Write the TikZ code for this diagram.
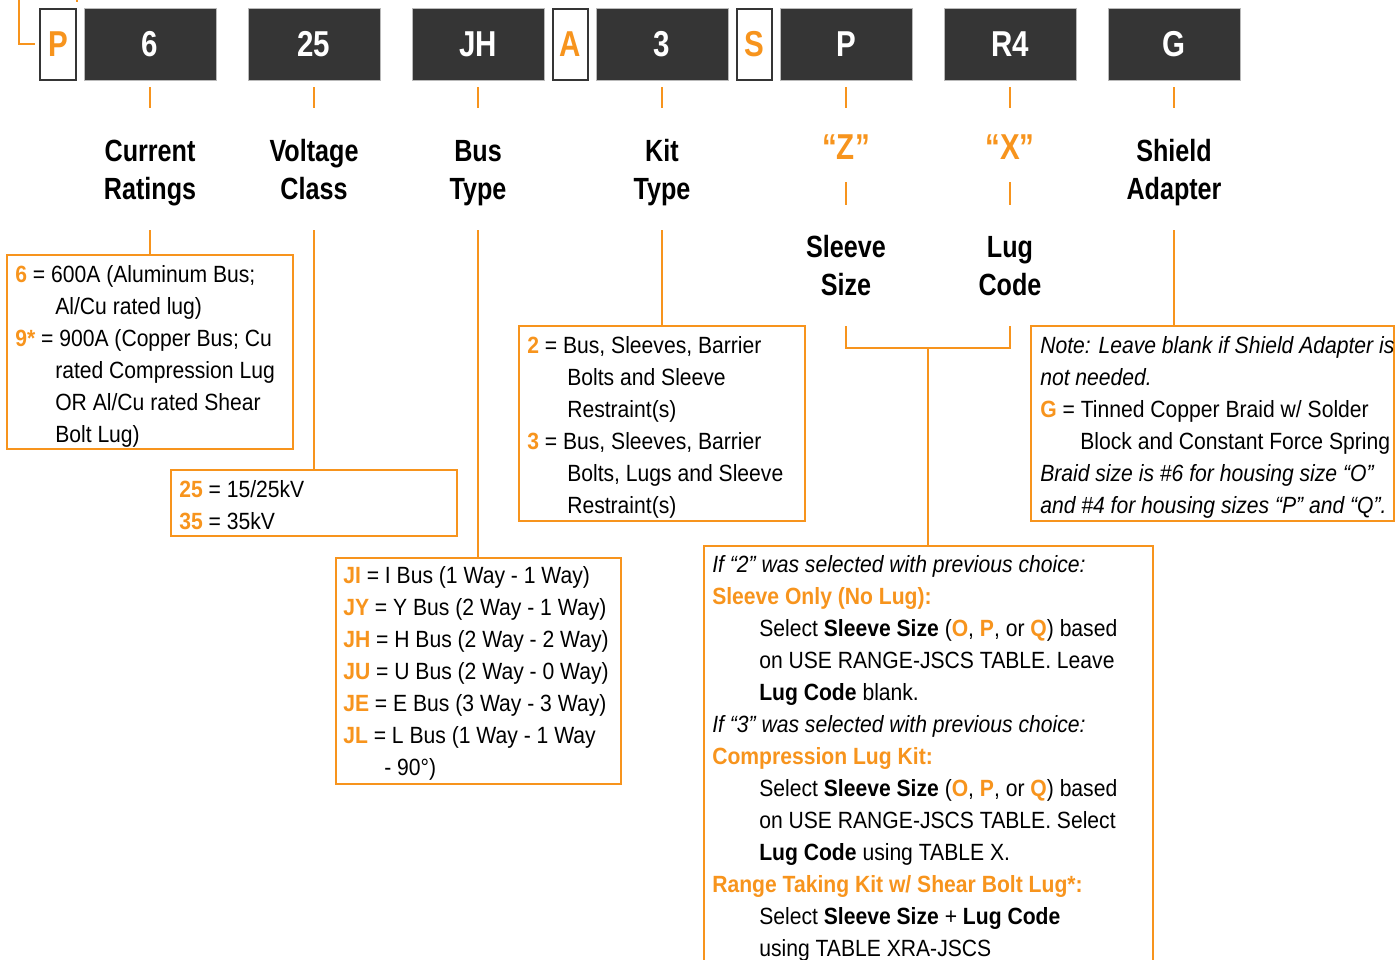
\documentclass[tikz,border=0pt]{standalone}
\usepackage{fontspec}
\setmainfont{Liberation Sans}[FakeStretch=0.9]
\newfontfamily\headfont{Liberation Sans}[FakeStretch=0.82]
\usetikzlibrary{fit}
\definecolor{org}{HTML}{F7941D}
\definecolor{dk}{HTML}{353535}
\newcommand\kk[1]{{\color{org}\bfseries #1}}
\begin{document}
\begin{tikzpicture}[x=0.75pt,y=-0.75pt,
  conn/.style={draw=org,line width=1.9pt},
  tick/.style={draw=org,line width=1.6pt},
  obox/.style={draw=org,line width=1.9pt,inner sep=0pt},
  kbox/.style={fill=dk,draw=gray!55,line width=0.6pt,inner sep=0pt,minimum width=99pt,minimum height=54pt,text=white,font=\headfont\fontsize{27}{30}\selectfont\bfseries},
  wbox/.style={fill=white,draw=dk,line width=1.6pt,inner sep=0pt,minimum width=26.5pt,minimum height=53pt,text=org,font=\headfont\fontsize{27}{30}\selectfont\bfseries},
  head/.style={anchor=base,inner sep=0pt,font=\headfont\fontsize{23}{28}\selectfont\bfseries},
  quot/.style={anchor=base,inner sep=0pt,text=org,font=\headfont\fontsize{27}{30}\selectfont\bfseries},
  ln/.style={anchor=base west,inner sep=0pt,font=\fontsize{17.6}{24}\selectfont},
  it/.style={ln,font=\fontsize{17.6}{24}\selectfont\itshape},
  ol/.style={ln,text=org,font=\fontsize{17.6}{24}\selectfont\bfseries},
]
\useasboundingbox (0,0) rectangle (1396,960);

% top-left fragments
\coordinate (tl0) at (19,0);
\coordinate (tl1) at (19,44);
\coordinate (tl2) at (35,44);
\draw[tick] (tl0) -- (tl1) -- (tl2);
\coordinate (tt0) at (77,0);
\coordinate (tt1) at (77,2);
\draw[tick] (tt0) -- (tt1);

% code boxes
\node[wbox] (wP) at (58,44.5) {P};
\node[kbox] (k6) at (150,44) {6};
\node[kbox] (k25) at (314,44) {25};
\node[kbox] (kJH) at (478,44) {JH};
\node[wbox] (wA) at (570.5,44.5) {A};
\node[kbox] (k3) at (662,44) {3};
\node[wbox] (wS) at (754.5,44.5) {S};
\node[kbox] (kP) at (846,44) {P};
\node[kbox] (kR) at (1010,44) {R4};
\node[kbox] (kG) at (1174,44) {G};

% ticks below code boxes
\foreach \n/\x in {a/150,b/314,c/478,d/662,e/846,f/1010,g/1174}{
  \coordinate (ta\n) at (\x,87);
  \coordinate (tb\n) at (\x,108);
  \draw[tick] (ta\n) -- (tb\n);
}

% headings
\node[head] (h1a) at (150,161) {Current};
\node[head] (h1b) at (150,199) {Ratings};
\node[head] (h2a) at (314,161) {Voltage};
\node[head] (h2b) at (314,199) {Class};
\node[head] (h3a) at (478,161) {Bus};
\node[head] (h3b) at (478,199) {Type};
\node[head] (h4a) at (662,161) {Kit};
\node[head] (h4b) at (662,199) {Type};
\node[quot] (qZ) at (846,159) {“Z”};
\node[quot] (qX) at (1010,159) {“X”};
\node[head] (h7a) at (1174,161) {Shield};
\node[head] (h7b) at (1174,199) {Adapter};
\coordinate (zt0) at (846,182); \coordinate (zt1) at (846,205);
\coordinate (xt0) at (1010,182); \coordinate (xt1) at (1010,205);
\draw[tick] (zt0) -- (zt1);
\draw[tick] (xt0) -- (xt1);
\node[head] (h5a) at (846,257) {Sleeve};
\node[head] (h5b) at (846,295) {Size};
\node[head] (h6a) at (1010,257) {Lug};
\node[head] (h6b) at (1010,295) {Code};

% option boxes
\node[obox,fit={(7,255)(293,449)}] (b1) {};
\node[obox,fit={(171,470)(457,536)}] (b2) {};
\node[obox,fit={(336,558)(621,784)}] (b3) {};
\node[obox,fit={(519,326)(805,521)}] (b4) {};
\node[obox,fit={(704,546)(1153,990)}] (b5) {};
\node[obox,fit={(1031,326)(1394,521)}] (b6) {};

% connectors
\coordinate (c1) at (150,230);
\coordinate (c2) at (314,230);
\coordinate (c3) at (478,230);
\coordinate (c4) at (662,230);
\coordinate (c7) at (1174,230);
\draw[conn] (c1) -- (c1 |- b1.north);
\draw[conn] (c2) -- (c2 |- b2.north);
\draw[conn] (c3) -- (c3 |- b3.north);
\draw[conn] (c4) -- (c4 |- b4.north);
\draw[conn] (c7) -- (c7 |- b6.north);
\coordinate (s1) at (846,326);
\coordinate (s2) at (846,348);
\coordinate (l1) at (1010,326);
\coordinate (l2) at (1010,348);
\coordinate (m1) at (928,348);
\draw[conn] (s1) -- (s2) -- (l2) -- (l1);
\draw[conn] (m1) -- (m1 |- b5.north);

% box 1
\node[ln] (t1a) at (15,282) {\kk{6} = 600A (Aluminum Bus;};
\node[ln] (t1b) at (55,314) {Al/Cu rated lug)};
\node[ln] (t1c) at (15,346) {\kk{9*} = 900A (Copper Bus; Cu};
\node[ln] (t1d) at (55,378) {rated Compression Lug};
\node[ln] (t1e) at (55,410) {OR Al/Cu rated Shear};
\node[ln] (t1f) at (55,442) {Bolt Lug)};

% box 2
\node[ln] (t2a) at (179,497) {\kk{25} = 15/25kV};
\node[ln] (t2b) at (179,529) {\kk{35} = 35kV};

% box 3
\node[ln] (t3a) at (343,583) {\kk{JI} = I Bus (1 Way - 1 Way)};
\node[ln] (t3b) at (343,615) {\kk{JY} = Y Bus (2 Way - 1 Way)};
\node[ln] (t3c) at (343,647) {\kk{JH} = H Bus (2 Way - 2 Way)};
\node[ln] (t3d) at (343,679) {\kk{JU} = U Bus (2 Way - 0 Way)};
\node[ln] (t3e) at (343,711) {\kk{JE} = E Bus (3 Way - 3 Way)};
\node[ln] (t3f) at (343,743) {\kk{JL} = L Bus (1 Way - 1 Way};
\node[ln] (t3g) at (384,775) {- 90°)};

% box 4
\node[ln] (t4a) at (527,353) {\kk{2} = Bus, Sleeves, Barrier};
\node[ln] (t4b) at (567,385) {Bolts and Sleeve};
\node[ln] (t4c) at (567,417) {Restraint(s)};
\node[ln] (t4d) at (527,449) {\kk{3} = Bus, Sleeves, Barrier};
\node[ln] (t4e) at (567,481) {Bolts, Lugs and Sleeve};
\node[ln] (t4f) at (567,513) {Restraint(s)};

% box 6
\node[it] (t6a) at (1040,353) {Note: Leave blank if Shield Adapter is};
\node[it] (t6b) at (1040,385) {not needed.};
\node[ln] (t6c) at (1040,417) {\kk{G} = Tinned Copper Braid w/ Solder};
\node[ln] (t6d) at (1080,449) {Block and Constant Force Spring};
\node[it] (t6e) at (1040,481) {Braid size is \#6 for housing size “O”};
\node[it] (t6f) at (1040,513) {and \#4 for housing sizes “P” and “Q”.};

% box 5
\node[it] (t5a) at (712,572) {If “2” was selected with previous choice:};
\node[ol] (t5b) at (712,604) {Sleeve Only (No Lug):};
\node[ln] (t5c) at (759,636) {Select \textbf{Sleeve Size} (\kk{O}, \kk{P}, or \kk{Q}) based};
\node[ln] (t5d) at (759,668) {on USE RANGE-JSCS TABLE. Leave};
\node[ln] (t5e) at (759,700) {\textbf{Lug Code} blank.};
\node[it] (t5f) at (712,732) {If “3” was selected with previous choice:};
\node[ol] (t5g) at (712,764) {Compression Lug Kit:};
\node[ln] (t5h) at (759,796) {Select \textbf{Sleeve Size} (\kk{O}, \kk{P}, or \kk{Q}) based};
\node[ln] (t5i) at (759,828) {on USE RANGE-JSCS TABLE. Select};
\node[ln] (t5j) at (759,860) {\textbf{Lug Code} using TABLE X.};
\node[ol] (t5k) at (712,892) {Range Taking Kit w/ Shear Bolt Lug*:};
\node[ln] (t5l) at (759,924) {Select \textbf{Sleeve Size} + \textbf{Lug Code}};
\node[ln] (t5m) at (759,956) {using TABLE XRA-JSCS};
\end{tikzpicture}
\end{document}
